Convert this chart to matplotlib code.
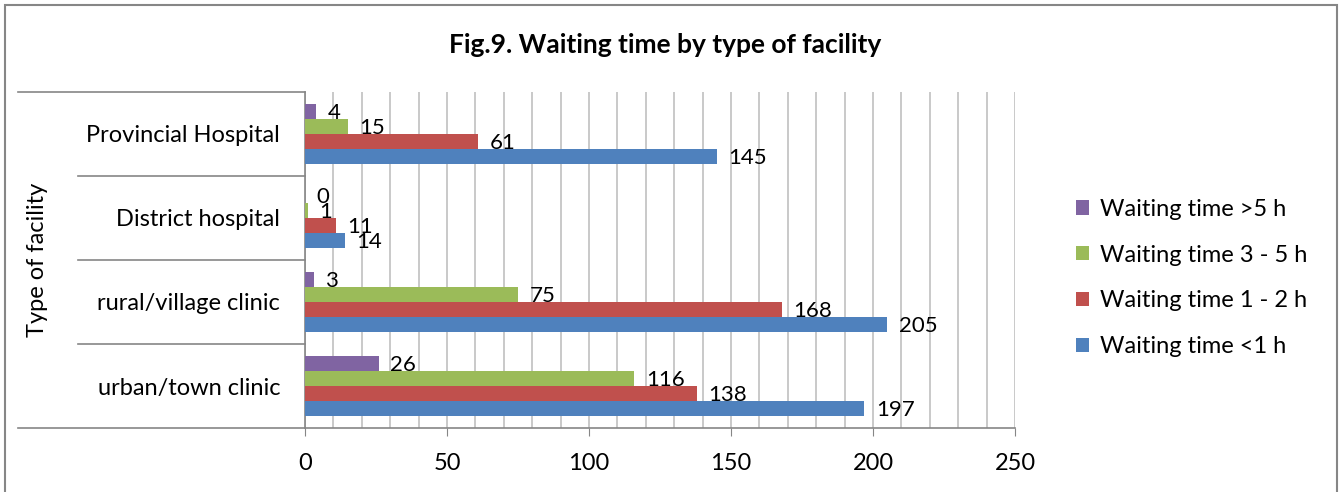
import matplotlib
matplotlib.use("Agg")
import matplotlib.pyplot as plt
from matplotlib.patches import Rectangle
import numpy as np

plt.rcParams["font.family"] = ["Lato", "DejaVu Sans"]

facilities = ["urban/town clinic", "rural/village clinic", "District hospital", "Provincial Hospital"]
series = ["Waiting time <1 h", "Waiting time 1 - 2 h", "Waiting time 3 - 5 h", "Waiting time >5 h"]
lt1h = [197, 205, 14, 145]
h1_2 = [138, 168, 11, 61]
h3_5 = [116, 75, 1, 15]
gt5h = [26, 3, 0, 4]
colors = ["#4F81BD", "#C0504D", "#9BBB59", "#8064A2"]

W, H = 1343, 492
fig = plt.figure(figsize=(W / 100, H / 100), dpi=100)
fig.patches.append(Rectangle((5 / W, -0.1), 1332 / W, (H - 5) / H + 0.1, transform=fig.transFigure,
                             fill=False, edgecolor="#868686", lw=1.5))

ax = fig.add_axes([305 / W, (H - 428) / H, 710 / W, 336 / H])
y = np.arange(len(facilities))
bh = 0.18
vals = [lt1h, h1_2, h3_5, gt5h]
for i, (v, c, s) in enumerate(zip(vals, colors, series)):
    pos = y - 1.5 * bh + i * bh
    ax.barh(pos, v, height=bh, color=c, label=s, zorder=3)
    for p, val in zip(pos, v):
        ax.text(val + 4, p - 0.02, str(val), va="center", ha="left", fontsize=16, zorder=4)

ax.set_xlim(0, 250)
ax.set_ylim(-0.5, 3.5)
ax.set_xticks(range(0, 251, 50))
ax.set_xticks(range(0, 251, 10), minor=True)
ax.grid(axis="x", which="both", color="#C0C0C0", lw=1.2, zorder=0)
ax.tick_params(axis="x", which="major", length=6, color="#868686", labelsize=17, pad=12)
ax.tick_params(axis="x", which="minor", length=0)
ax.set_yticks(y)
ax.set_yticklabels(facilities, fontsize=17)
ax.tick_params(axis="y", length=0, pad=18)
for sp in ["top", "right"]:
    ax.spines[sp].set_visible(False)
for sp in ["left", "bottom"]:
    ax.spines[sp].set_color("#868686")
    ax.spines[sp].set_linewidth(1.2)

tr = ax.get_yaxis_transform()
for b in [-0.5, 3.5]:
    ax.plot([-287 / 710, 0], [b, b], transform=tr, color="#868686", lw=1.2, clip_on=False)
for b in [0.5, 1.5, 2.5]:
    ax.plot([-227 / 710, 0], [b, b], transform=tr, color="#868686", lw=1.2, clip_on=False)

fig.text(38 / W, 1 - 260 / H, "Type of facility", rotation=90, ha="center", va="center", fontsize=17)
fig.text(665 / W, 1 - 45 / H, "Fig.9. Waiting time by type of facility", ha="center", va="center",
         fontsize=19, fontweight="bold")

handles, labels = ax.get_legend_handles_labels()
fig.legend(handles[::-1], labels[::-1], loc="center left", bbox_to_anchor=(1055 / W, 1 - 278 / H),
           frameon=False, fontsize=17, handlelength=0.55, handleheight=0.55, labelspacing=1.05,
           handletextpad=0.45)

fig.savefig("out.png", dpi=100)
